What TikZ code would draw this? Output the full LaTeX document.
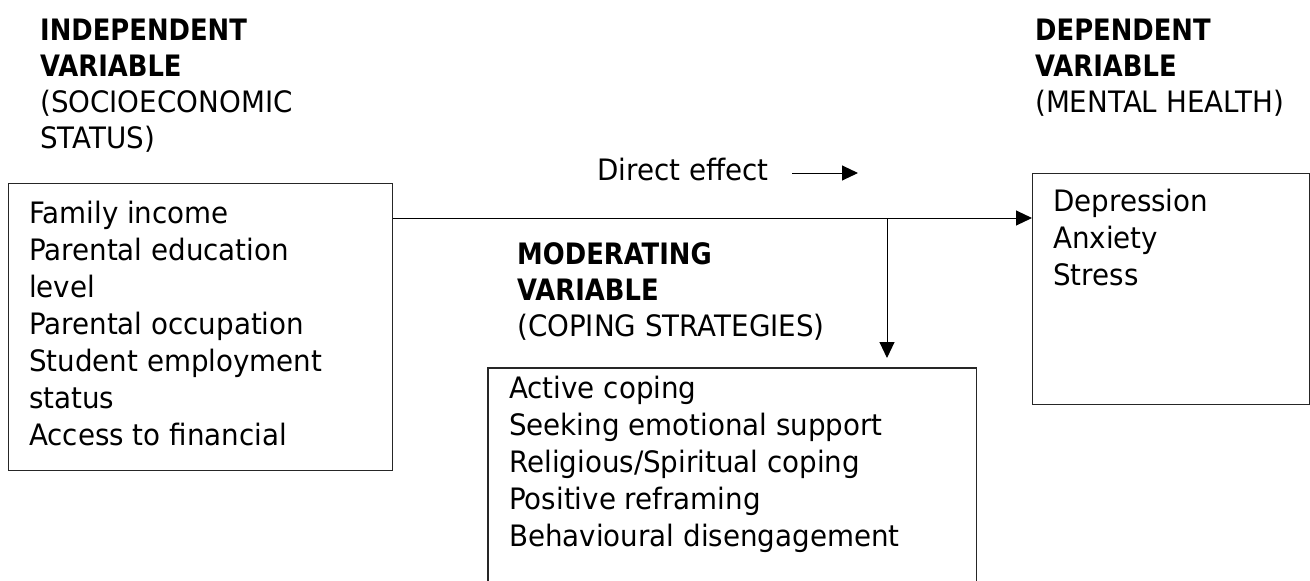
\documentclass[tikz,border=0pt]{standalone}
\usepackage{fontspec}
\setmainfont{DejaVu Sans}[FakeStretch=0.94, BoldFeatures={FakeStretch=0.875}]
\usetikzlibrary{arrows.meta}
\begin{document}
\begin{tikzpicture}[x=1pt,y=-1pt,
  txt/.style={font=\fontsize{29.5}{36}\selectfont, align=left, anchor=base west, inner sep=0pt},
  boxtxt/.style={font=\fontsize{29.5}{37}\selectfont, align=left, anchor=base west, inner sep=0pt},
  box/.style={draw=black!85, line width=1.2pt, anchor=north west, inner sep=0pt},
  conn/.style={line width=1pt, -{Triangle[length=16pt,width=15pt]}}]
\useasboundingbox (0,0) rectangle (1310,581);
% headers (anchor = baseline of the last line)
\node[txt] (ivh) at (40,148) {\textbf{INDEPENDENT}\\\textbf{VARIABLE}\\(SOCIOECONOMIC\\STATUS)};
\node[txt] (dvh) at (1035,112) {\textbf{DEPENDENT}\\\textbf{VARIABLE}\\(MENTAL HEALTH)};
\node[txt] (mvh) at (517,336) {\textbf{MODERATING}\\\textbf{VARIABLE}\\(COPING STRATEGIES)};
% direct effect label
\node[txt] (de) at (597,180) {Direct effect};
\coordinate (de1) at (792,173);
\coordinate (de2) at (858,173);
\draw[conn] (de1) -- (de2);
% boxes
\node[box, minimum width=384pt, minimum height=287pt] (iv) at (8,183) {};
\node[boxtxt] (ivt) at (29,445) {Family income\\Parental education\\level\\Parental occupation\\Student employment\\status\\Access to financial};
\node[box, minimum width=277pt, minimum height=231pt] (dv) at (1032,173) {};
\node[boxtxt] (dvt) at (1053,285) {Depression\\Anxiety\\Stress};
\node[anchor=north west, inner sep=0pt, minimum width=488pt, minimum height=220pt] (mv) at (488,368) {};
\draw[draw=black!85, line width=1.2pt] (mv.south west) -- (mv.north west) -- (mv.north east) -- (mv.south east);
\node[boxtxt] (mvt) at (509,546) {Active coping\\Seeking emotional support\\Religious/Spiritual coping\\Positive reframing\\Behavioural disengagement};
% connectors
\coordinate (s) at (iv.east |- 0,218);
\coordinate (m) at (887,218);
\coordinate (me) at (887,358);
\draw[conn] (s) -- (dv.west |- s);
\draw[conn] (m) -- (me);
\end{tikzpicture}
\end{document}
